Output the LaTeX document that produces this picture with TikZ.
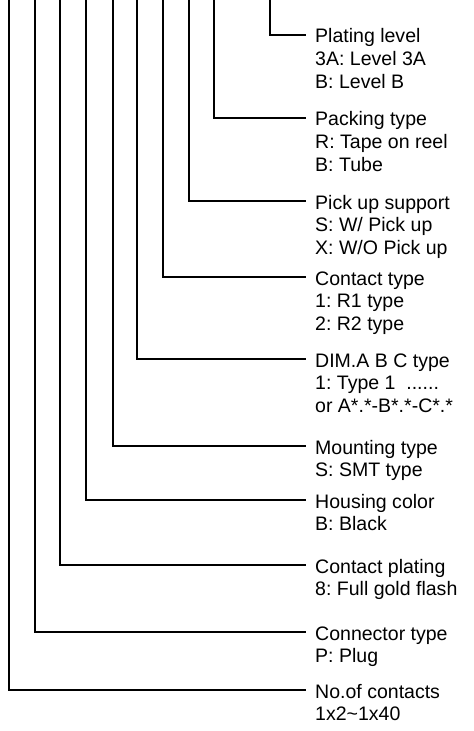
\documentclass[tikz,border=0pt]{standalone}
\usepackage{fontspec}
\setmainfont{Liberation Sans}
\frenchspacing
\begin{document}
\begin{tikzpicture}[x=1bp,y=-1bp,
  lbl/.style={anchor=base west,inner sep=0pt,font=\fontsize{19.6}{23}\selectfont},
  lead/.style={line width=1.2bp,black}]
\useasboundingbox (0,0) rectangle (474,731);
% labels: position (315, y+8) so the first line is centred on the leader
\newcommand{\lab}[3]{\node[lbl] (#1) at (315,#2+8) {\begin{tabular}[t]{@{}l@{}}#3\end{tabular}};}
\lab{n1}{35}{Plating level\\3A: Level 3A\\B: Level B}
\lab{n2}{118}{Packing type\\R: Tape on reel\\B: Tube}
\lab{n3}{201}{Pick up support\\S: W/ Pick up\\X: W/O Pick up}
\lab{n4}{277}{Contact type\\1: R1 type\\2: R2 type}
\lab{n5}{359}{DIM.A B C type\\1: Type 1\ \ ......\\or A*.*-B*.*-C*.*}
\lab{n6}{446}{Mounting type\\S: SMT type}
\lab{n7}{500}{Housing color\\B: Black}
\lab{n8}{565}{Contact plating\\8: Full gold flash}
\lab{n9}{632}{Connector type\\P: Plug}
\lab{n10}{690}{No.of contacts\\1x2\textasciitilde 1x40}
% top ends of the leaders
\coordinate (t1) at (270,0);
\coordinate (t2) at (214,0);
\coordinate (t3) at (189,0);
\coordinate (t4) at (163,0);
\coordinate (t5) at (137,0);
\coordinate (t6) at (113,0);
\coordinate (t7) at (86,0);
\coordinate (t8) at (60,0);
\coordinate (t9) at (35,0);
\coordinate (t10) at (9,0);
\foreach \i in {1,...,10}{
  \draw[lead] (t\i) |- ([shift={(-9bp,8bp)}]n\i.base west);
}
\end{tikzpicture}
\end{document}
